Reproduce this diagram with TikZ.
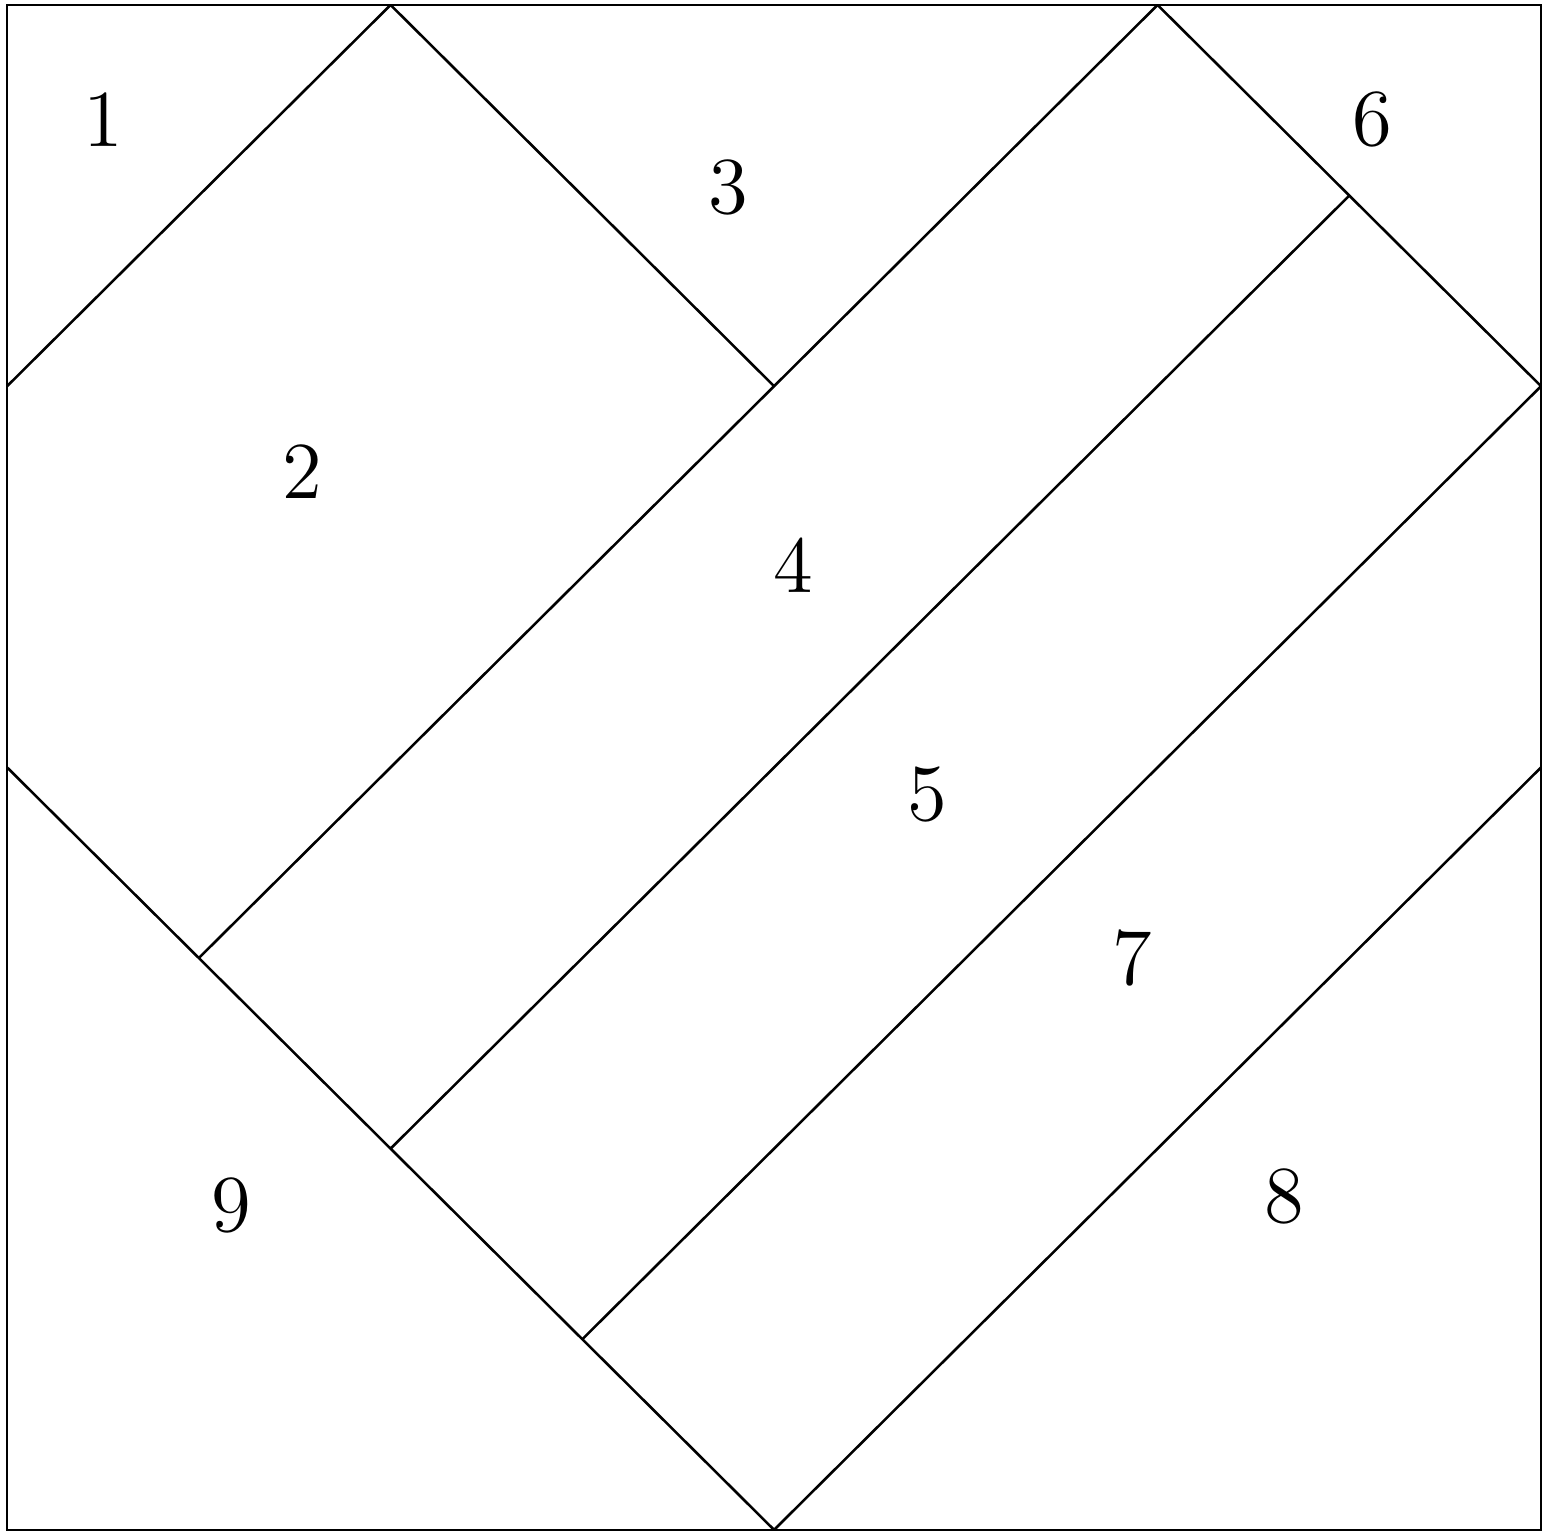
\documentclass[tikz,border=0pt]{standalone}
\usepackage{tikz}
\usetikzlibrary{positioning}

\begin{document}
\begin{tikzpicture}[y=0.9941cm, line width=0.38pt]
\tikzset{piece/.style={font=\large}}
\useasboundingbox (-0.037,-0.021) rectangle (8.057,8.026);
% Outer block
\draw (0,0) rectangle (8,8);
% Seams of the block (8 x 8 grid)
\foreach \a/\b/\c/\d in {0/6/2/8, 2/8/4/6, 0/4/4/0, 1/3/6/8, 6/8/8/6, 2/2/7/7, 3/1/8/6, 4/0/8/4} {
    \draw (\a,\b) -- (\c,\d);
}
% Piece numbers
\foreach \x/\y/\n in {0.5/7.4/1, 1.54/5.55/2, 3.76/7.04/3, 4.1/5.06/4, 4.8/3.86/5, 7.12/7.4/6, 5.87/3.0/7, 6.66/1.75/8, 1.17/1.7/9} {
    \node[piece] (p\n) at (\x,\y) {\n};
}
\end{tikzpicture}
\end{document}
